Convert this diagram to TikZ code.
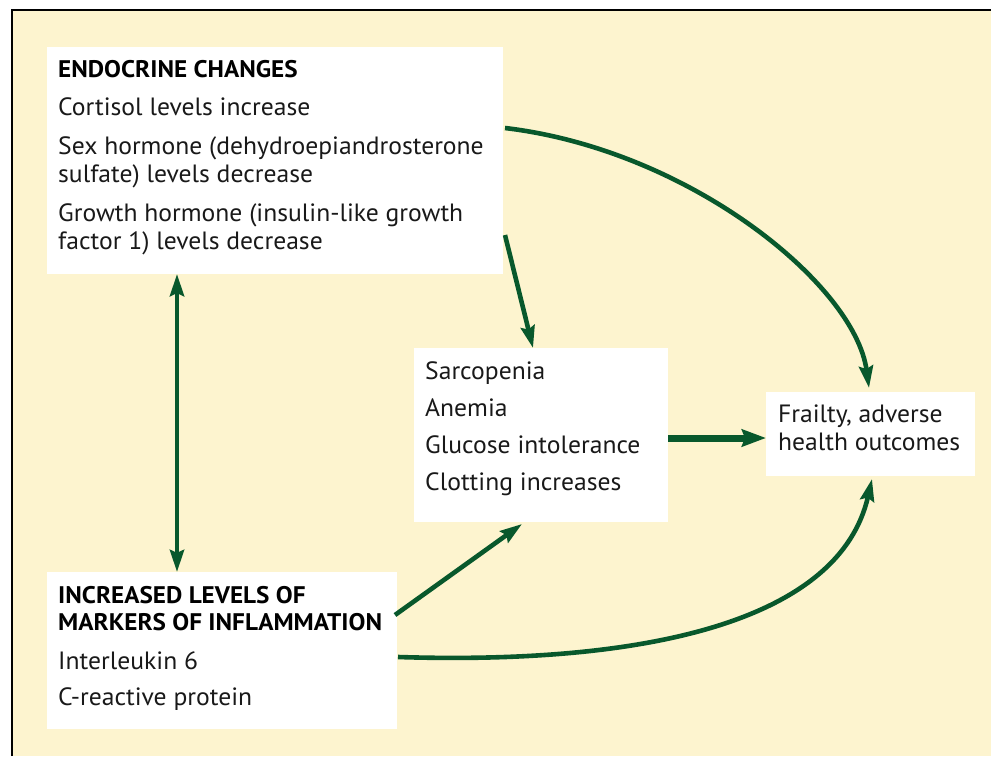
\documentclass[tikz,border=0pt]{standalone}
\usepackage{fontspec}
\setmainfont{PT Sans}[FakeStretch=1.025]
\newfontfamily\hdfont{PT Sans}[FakeStretch=1.05]
\usetikzlibrary{arrows.meta,calc}
\definecolor{cream}{RGB}{253,244,207}
\definecolor{dkgreen}{RGB}{8,88,44}
\definecolor{ink}{RGB}{25,25,25}
\begin{document}
\begin{tikzpicture}[x=1pt,y=-1pt,
  box/.style={fill=white, draw=none, inner sep=0pt, outer sep=0pt, anchor=north west},
  txt/.style={anchor=base west, inner sep=0pt, text=ink, font=\fontsize{25}{27}\selectfont},
  hd/.style={anchor=base west, inner sep=0pt, text=black, font=\hdfont\fontsize{24}{26}\selectfont\bfseries},
  conn/.style={draw=dkgreen, line width=4.6pt, -{Stealth[length=22pt,width=14pt,inset=3pt]}},
  conntwo/.style={draw=dkgreen, line width=4.6pt, {Stealth[length=22pt,width=14pt,inset=3pt]}-{Stealth[length=22pt,width=14pt,inset=3pt]}},
  thick conn/.style={draw=dkgreen, line width=7pt, -{Stealth[length=24pt,width=17pt,inset=3pt]}}
]
\useasboundingbox (0,0) rectangle (991,756);
\fill[white] (0,0) rectangle (991,756);
\fill[cream] (12,10) rectangle (991,756);
\draw[black, line width=2.2pt] (12,756) -- (12,10) -- (991,10);

% boxes
\node[box, minimum width=456pt, minimum height=227pt] (endo) at (47,47) {};
\node[box, minimum width=254pt, minimum height=174pt] (mid) at (414,348) {};
\node[box, minimum width=209pt, minimum height=84pt] (frail) at (766,392) {};
\node[box, minimum width=350pt, minimum height=157pt] (infl) at (47,572) {};

% endocrine text
\node[hd]  (e0) at (58,77)  {ENDOCRINE CHANGES};
\node[txt] (e1) at (58,115) {Cortisol levels increase};
\node[txt] (e2) at (58,154) {Sex hormone (dehydroepiandrosterone};
\node[txt] (e3) at (58,182) {sulfate) levels decrease};
\node[txt] (e4) at (58,221) {Growth hormone (insulin-like growth};
\node[txt] (e5) at (58,249) {factor 1) levels decrease};

% middle text
\node[txt] (m1) at (425,379) {Sarcopenia};
\node[txt] (m2) at (425,416) {Anemia};
\node[txt] (m3) at (425,453) {Glucose intolerance};
\node[txt] (m4) at (425,490) {Clotting increases};

% frailty text
\node[txt] (f1) at (778,422) {Frailty, adverse};
\node[txt] (f2) at (778,450) {health outcomes};

% inflammation text
\node[hd]  (i0) at (58,603) {INCREASED LEVELS OF};
\node[hd]  (i1) at (58,630) {MARKERS OF INFLAMMATION};
\node[txt] (i2) at (58,669) {Interleukin 6};
\node[txt] (i3) at (58,705) {C-reactive protein};

% connectors
\draw[conntwo] ([xshift=130pt]endo.south west) -- ([xshift=130pt]infl.north west);
\draw[conn] ([xshift=2pt,yshift=-188pt]endo.north east) -- ([xshift=119pt]mid.north west);
\draw[conn] ([xshift=2pt,yshift=-81pt]endo.north east) .. controls (690,150) and (855,285) .. ([xshift=103pt,yshift=4pt]frail.north west);
\draw[thick conn] ([yshift=-3pt]mid.east) -- ([yshift=-3pt]mid.east -| frail.west);
\draw[conn] ([xshift=-2pt,yshift=-43pt]infl.north east) -- ([xshift=108pt,yshift=-2pt]mid.south west);
\draw[conn] ([xshift=1pt,yshift=-85pt]infl.north east) .. controls (650,665) and (840,620) .. ([xshift=106pt,yshift=-3pt]frail.south west);
\end{tikzpicture}
\end{document}
